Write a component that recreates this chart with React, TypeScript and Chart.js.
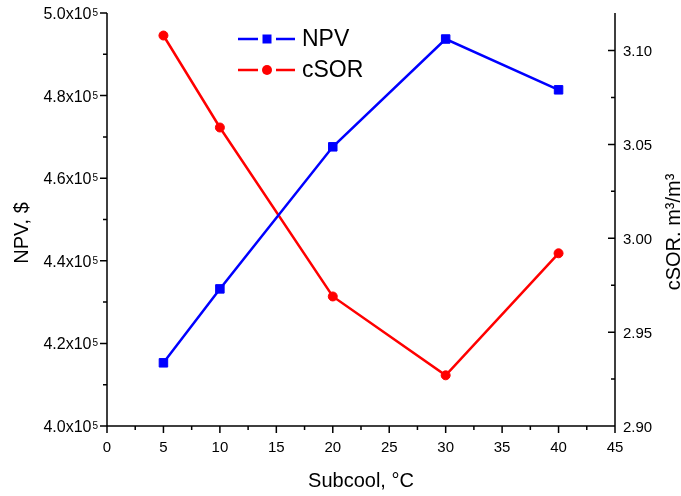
import React, { useEffect, useRef } from "react";
import { Chart, registerables } from "chart.js";

Chart.register(...registerables);

// ---- data ----
const subcool = [5, 10, 20, 30, 40];
const npv = [415300, 433200, 467600, 493700, 481400];
const csor = [3.108, 3.059, 2.969, 2.927, 2.992];

// ---- ticks ----
const xTicks = [0, 5, 10, 15, 20, 25, 30, 35, 40, 45];
const xMinor = [2.5, 7.5, 12.5, 17.5, 22.5, 27.5, 32.5, 37.5, 42.5];
const npvTicks = [400000, 420000, 440000, 460000, 480000, 500000];
const npvMinor = [410000, 430000, 450000, 470000, 490000];
const npvTickBase = ["4.0x10", "4.2x10", "4.4x10", "4.6x10", "4.8x10", "5.0x10"];
const npvTickExp = "5";
const csorTicks = [2.9, 2.95, 3.0, 3.05, 3.1];
const csorTickLabels = ["2.90", "2.95", "3.00", "3.05", "3.10"];
const csorMinor = [2.925, 2.975, 3.025, 3.075];

// ---- text ----
const xTitle = "Subcool, °C";
const yTitle = "NPV, $";
const y1Title = "cSOR. m³/m³";
const npvLabel = "NPV";
const csorLabel = "cSOR";

const FONT = "'Liberation Sans', Arial, Helvetica, sans-serif";
const BLUE = "#0000ff";
const RED = "#ff0000";

const decorPlugin = {
  id: "decor",
  afterDraw(chart: any) {
    const { ctx, chartArea: a, scales } = chart;
    ctx.save();
    ctx.strokeStyle = "#000";
    ctx.lineWidth = 1.5;
    ctx.beginPath();
    ctx.moveTo(a.left, a.top);
    ctx.lineTo(a.left, a.bottom);
    ctx.moveTo(a.left, a.bottom);
    ctx.lineTo(a.right, a.bottom);
    ctx.moveTo(a.right, a.top);
    ctx.lineTo(a.right, a.bottom);
    // left ticks (outward)
    npvTicks.forEach((v) => {
      const y = scales.y.getPixelForValue(v);
      ctx.moveTo(a.left - 7, y);
      ctx.lineTo(a.left, y);
    });
    npvMinor.forEach((v) => {
      const y = scales.y.getPixelForValue(v);
      ctx.moveTo(a.left - 4, y);
      ctx.lineTo(a.left, y);
    });
    // bottom ticks (outward)
    xTicks.forEach((v) => {
      const x = scales.x.getPixelForValue(v);
      ctx.moveTo(x, a.bottom);
      ctx.lineTo(x, a.bottom + 7);
    });
    xMinor.forEach((v) => {
      const x = scales.x.getPixelForValue(v);
      ctx.moveTo(x, a.bottom);
      ctx.lineTo(x, a.bottom + 4);
    });
    // right ticks (inward)
    csorTicks.forEach((v) => {
      const y = scales.y1.getPixelForValue(v);
      ctx.moveTo(a.right - 7, y);
      ctx.lineTo(a.right, y);
    });
    csorMinor.forEach((v) => {
      const y = scales.y1.getPixelForValue(v);
      ctx.moveTo(a.right - 4, y);
      ctx.lineTo(a.right, y);
    });
    ctx.stroke();

    // tick labels
    ctx.fillStyle = "#000";
    ctx.textBaseline = "alphabetic";
    ctx.font = `15px ${FONT}`;
    ctx.textAlign = "center";
    xTicks.forEach((v) => {
      ctx.fillText(String(v), scales.x.getPixelForValue(v), a.bottom + 26);
    });
    const labelRight = a.left - 9;
    npvTicks.forEach((v, i) => {
      const y = scales.y.getPixelForValue(v);
      ctx.font = `10px ${FONT}`;
      ctx.textAlign = "right";
      const supW = ctx.measureText(npvTickExp).width;
      ctx.fillText(npvTickExp, labelRight, y + 3);
      ctx.font = `16px ${FONT}`;
      ctx.fillText(npvTickBase[i], labelRight - supW - 1, y + 6);
    });
    ctx.font = `15px ${FONT}`;
    ctx.textAlign = "left";
    csorTicks.forEach((v, i) => {
      const y = scales.y1.getPixelForValue(v);
      ctx.fillText(csorTickLabels[i], a.right + 8, y + 5.5);
    });

    // axis titles
    ctx.font = `20px ${FONT}`;
    ctx.textAlign = "center";
    ctx.textBaseline = "alphabetic";
    ctx.fillText(xTitle, (a.left + a.right) / 2, 487);

    ctx.save();
    ctx.translate(28, 233);
    ctx.rotate(-Math.PI / 2);
    ctx.fillText(yTitle, 0, 0);
    ctx.restore();

    ctx.save();
    ctx.translate(680, 232);
    ctx.rotate(-Math.PI / 2);
    ctx.fillText(y1Title, 0, 0);
    ctx.restore();

    // legend
    const rows = [
      { label: npvLabel, color: BLUE, shape: "rect", y: 39 },
      { label: csorLabel, color: RED, shape: "circle", y: 70 },
    ];
    rows.forEach((r) => {
      ctx.strokeStyle = r.color;
      ctx.fillStyle = r.color;
      ctx.lineWidth = 2.5;
      ctx.beginPath();
      ctx.moveTo(238, r.y);
      ctx.lineTo(258, r.y);
      ctx.moveTo(276, r.y);
      ctx.lineTo(295, r.y);
      ctx.stroke();
      ctx.beginPath();
      if (r.shape === "rect") {
        ctx.rect(267 - 4.5, r.y - 4.5, 9, 9);
      } else {
        ctx.arc(267, r.y, 5, 0, Math.PI * 2);
      }
      ctx.fill();
      ctx.fillStyle = "#000";
      ctx.font = `23px ${FONT}`;
      ctx.textAlign = "left";
      ctx.textBaseline = "middle";
      ctx.fillText(r.label, 302, r.y + 1);
    });
    ctx.restore();
  },
};

export default function App() {
  const ref = useRef<HTMLCanvasElement | null>(null);

  useEffect(() => {
    document.body.style.margin = "0";
    const canvas = ref.current;
    if (!canvas) return;
    const chart = new Chart(canvas, {
      type: "line",
      data: {
        datasets: [
          {
            label: npvLabel,
            data: subcool.map((x, i) => ({ x, y: npv[i] })),
            yAxisID: "y",
            borderColor: BLUE,
            backgroundColor: BLUE,
            borderWidth: 2.5,
            pointStyle: "rect",
            pointRadius: 6,
            pointBorderWidth: 1,
            pointBorderColor: BLUE,
            pointBackgroundColor: BLUE,
            tension: 0,
          },
          {
            label: csorLabel,
            data: subcool.map((x, i) => ({ x, y: csor[i] })),
            yAxisID: "y1",
            borderColor: RED,
            backgroundColor: RED,
            borderWidth: 2.5,
            pointStyle: "circle",
            pointRadius: 4.5,
            pointBorderWidth: 1,
            pointBorderColor: RED,
            pointBackgroundColor: RED,
            tension: 0,
          },
        ],
      },
      options: {
        responsive: false,
        animation: false,
        devicePixelRatio: 1,
        layout: { padding: { top: 13, left: 0, right: 0, bottom: 0 } },
        plugins: {
          legend: { display: false },
          title: { display: false },
          tooltip: { enabled: false },
        },
        scales: {
          x: {
            type: "linear",
            min: 0,
            max: 45,
            grid: { display: false },
            border: { display: false },
            afterBuildTicks: (s: any) => {
              s.ticks = xTicks.map((v) => ({ value: v }));
            },
            afterFit: (s: any) => {
              s.height = 70;
            },
            ticks: { display: false },
          },
          y: {
            type: "linear",
            position: "left",
            min: 400000,
            max: 500000,
            grid: { display: false },
            border: { display: false },
            afterBuildTicks: (s: any) => {
              s.ticks = npvTicks.map((v) => ({ value: v }));
            },
            afterFit: (s: any) => {
              s.width = 107;
            },
            ticks: { display: false },
          },
          y1: {
            type: "linear",
            position: "right",
            min: 2.9,
            max: 3.12,
            grid: { display: false },
            border: { display: false },
            afterBuildTicks: (s: any) => {
              s.ticks = csorTicks.map((v) => ({ value: v }));
            },
            afterFit: (s: any) => {
              s.width = 66;
            },
            ticks: { display: false },
          },
        },
      },
      plugins: [decorPlugin],
    } as any);
    return () => chart.destroy();
  }, []);

  return (
    <canvas
      ref={ref}
      width={681}
      height={496}
      style={{ display: "block", width: 681, height: 496 }}
    />
  );
}
